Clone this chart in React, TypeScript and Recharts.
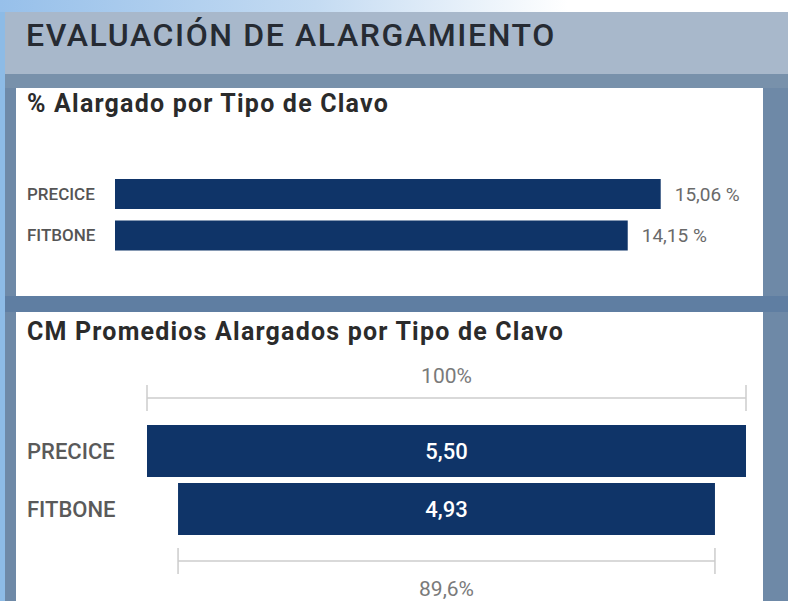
import React from 'react';
import { BarChart, Bar, XAxis, YAxis, LabelList } from 'recharts';

const categories = ['PRECICE', 'FITBONE'];
const pctAlargado = [15.06, 14.15];
const cmPromedio = [5.5, 4.93];

const NAVY = '#0f3468';
const FONT = 'Roboto, "Noto Sans", sans-serif';

const pctData = categories.map((c, i) => ({ name: c, value: pctAlargado[i] }));
const maxCm = Math.max(...cmPromedio);
const cmData = categories.map((c, i) => ({
  name: c,
  value: cmPromedio[i],
  pad: (maxCm - cmPromedio[i]) / 2,
}));

const fmtPct = (v: number) => v.toFixed(2).replace('.', ',') + ' %';
const fmtCm = (v: number) => v.toFixed(2).replace('.', ',');
const fmtShare = (v: number) => {
  const p = Math.round((v / maxCm) * 1000) / 10;
  return String(p).replace('.', ',') + '%';
};

const LeftTick = (size: number, weight: number, color: string) => (props: any) => (
  <text x={11} y={props.y} dy={size * 0.36} textAnchor="start" fontSize={size} fontWeight={weight}
    fill={color} fontFamily={FONT}>
    {props.payload.value}
  </text>
);

const FunnelShape = (props: any) => {
  const { x, y, width, height, index, payload } = props;
  const last = cmData.length - 1;
  const cx = x + width / 2;
  let bracket = null;
  if (index === 0 || index === last) {
    const ly = index === 0 ? y - 27 : y + height + 26;
    const ty = index === 0 ? y - 42 : y + height + 61;
    bracket = (
      <g>
        <line x1={x} x2={x + width} y1={ly} y2={ly} stroke="#cccccc" strokeWidth={1.5} />
        <line x1={x} x2={x} y1={ly - 13} y2={ly + 13} stroke="#cccccc" strokeWidth={1.5} />
        <line x1={x + width} x2={x + width} y1={ly - 13} y2={ly + 13} stroke="#cccccc" strokeWidth={1.5} />
        <text x={cx} y={ty} textAnchor="middle" fontSize={21} fill="#7a7a7a" fontFamily={FONT}>
          {fmtShare(payload.value)}
        </text>
      </g>
    );
  }
  return (
    <g>
      <rect x={x} y={y} width={width} height={height} fill={NAVY} />
      <text x={cx} y={y + height / 2 + 8} textAnchor="middle" fontSize={22} fontWeight={500}
        fill="#ffffff" fontFamily={FONT}>
        {fmtCm(payload.value)}
      </text>
      {bracket}
    </g>
  );
};

const box = (style: React.CSSProperties) => <div style={{ position: 'absolute', ...style }} />;

export default function App() {
  return (
    <div style={{ position: 'absolute', left: 0, top: 0, width: 788, height: 601, overflow: 'hidden',
      background: '#6e89a7', fontFamily: FONT }}>
      {box({ left: 0, top: 0, width: 788, height: 12,
        background: 'linear-gradient(to right, #97c0ea 0%, #c4dbf2 40%, #ffffff 72%)' })}
      {box({ left: 5, top: 12, width: 783, height: 62, background: '#a8b8cb' })}
      {box({ left: 5, top: 74, width: 783, height: 14, background: '#7891ab' })}
      {box({ left: 5, top: 296, width: 783, height: 16, background: '#5f7ea2' })}
      {box({ left: 0, top: 12, width: 5, height: 589, background: '#8dbbe6' })}
      <div style={{ position: 'absolute', left: 26, top: 19, fontSize: 32, fontWeight: 500, lineHeight: 1,
        letterSpacing: 1.6, color: '#262b33', whiteSpace: 'nowrap' }}>
        EVALUACIÓN DE ALARGAMIENTO
      </div>

      <div style={{ position: 'absolute', left: 16, top: 88, width: 747, height: 208, background: '#ffffff' }}>
        <div style={{ position: 'absolute', left: 11, top: 3, fontSize: 25, fontWeight: 700, lineHeight: 1,
          letterSpacing: 1.2, color: '#2b2b2b', whiteSpace: 'nowrap' }}>
          % Alargado por Tipo de Clavo
        </div>
        <BarChart width={747} height={208} data={pctData} layout="vertical"
          margin={{ top: 85, right: 32, bottom: 40, left: 0 }} style={{ position: 'absolute', left: 0, top: 0 }}>
          <XAxis type="number" domain={[0, 17]} hide />
          <YAxis type="category" dataKey="name" width={99} axisLine={false} tickLine={false}
            tick={LeftTick(17, 500, '#555555')} />
          <Bar dataKey="value" fill={NAVY} barSize={30} isAnimationActive={false}>
            <LabelList dataKey="value" position="right" offset={14} formatter={(v: any) => fmtPct(Number(v))}
              fill="#6a6a6a" fontSize={19} fontFamily={FONT} />
          </Bar>
        </BarChart>
      </div>

      <div style={{ position: 'absolute', left: 16, top: 312, width: 747, height: 289, background: '#ffffff' }}>
        <div style={{ position: 'absolute', left: 11, top: 7, fontSize: 25, fontWeight: 700, lineHeight: 1,
          letterSpacing: 1.2, color: '#2b2b2b', whiteSpace: 'nowrap' }}>
          CM Promedios Alargados por Tipo de Clavo
        </div>
        <BarChart width={747} height={289} data={cmData} layout="vertical"
          margin={{ top: 110, right: 17, bottom: 63, left: 0 }} style={{ position: 'absolute', left: 0, top: 0 }}>
          <XAxis type="number" domain={[0, maxCm]} hide />
          <YAxis type="category" dataKey="name" width={131} axisLine={false} tickLine={false}
            tick={LeftTick(22, 500, '#5a5a5a')} />
          <Bar dataKey="pad" stackId="f" fill="transparent" barSize={52} isAnimationActive={false} />
          <Bar dataKey="value" stackId="f" barSize={52} shape={FunnelShape} isAnimationActive={false} />
        </BarChart>
      </div>
    </div>
  );
}
